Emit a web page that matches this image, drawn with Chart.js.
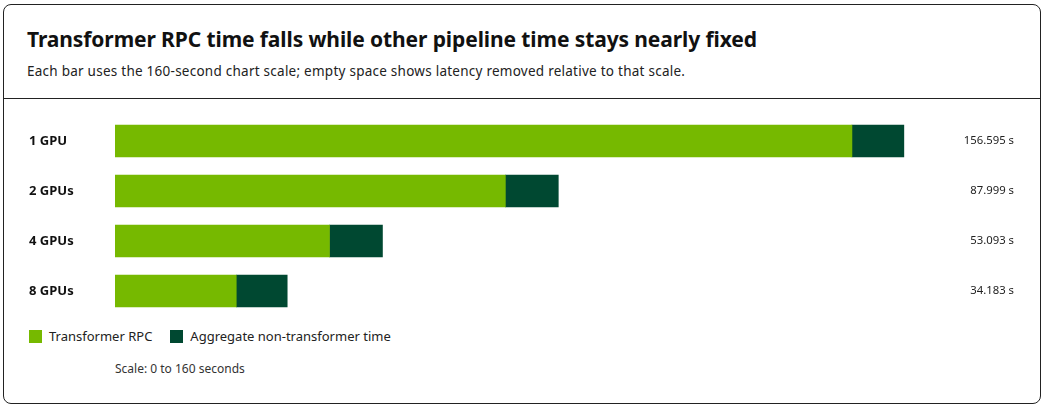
<!DOCTYPE html>
<html>
<head>
<meta charset="utf-8">
<title>Transformer RPC time</title>
<script src="https://cdn.jsdelivr.net/npm/chart.js@4.4.1/dist/chart.umd.min.js"></script>
<style>
  html, body { margin: 0; padding: 0; background: #fff; }
  body { width: 1048px; height: 408px; position: relative; font-family: "Noto Sans", sans-serif; color: #111; }
  .card { position: absolute; left: 3px; top: 4px; width: 1036px; height: 398px; border: 1px solid #222; border-radius: 8px; overflow: hidden; }
  .head { height: 93px; border-bottom: 1px solid #222; }
  h1 { margin: 0; position: absolute; left: 23px; top: 20px; font-size: 21px; font-weight: 700; letter-spacing: -0.1px; }
  .sub { position: absolute; left: 23px; top: 57px; font-size: 13.5px; letter-spacing: 0.25px; color: #222; }
  #myChart { position: absolute; left: 0; top: 111px; }
  .legend { position: absolute; left: 25px; top: 322px; font-size: 13px; color: #222; display: flex; align-items: center; }
  .legend span.sw { display: inline-block; width: 13px; height: 13px; margin-right: 7px; }
  .legend .item { display: flex; align-items: center; margin-right: 18px; }
  .note { position: absolute; left: 111px; top: 355px; font-size: 12px; color: #333; }
</style>
</head>
<body>
<div class="card">
  <div class="head"></div>
  <h1>Transformer RPC time falls while other pipeline time stays nearly fixed</h1>
  <div class="sub">Each bar uses the 160-second chart scale; empty space shows latency removed relative to that scale.</div>
  <canvas id="myChart" width="1036" height="200"></canvas>
  <div class="legend">
    <div class="item"><span class="sw" style="background:#76b900"></span>Transformer RPC</div>
    <div class="item"><span class="sw" style="background:#004831"></span>Aggregate non-transformer time</div>
  </div>
  <div class="note">Scale: 0 to 160 seconds</div>
</div>
<script>
const labels = ['1 GPU', '2 GPUs', '4 GPUs', '8 GPUs'];
const transformerRpc = [146.29, 77.49, 42.58, 24.07];
const nonTransformer = [10.305, 10.509, 10.513, 10.113];
const totals = ['156.595 s', '87.999 s', '53.093 s', '34.183 s'];
const scaleMax = 160;

const valueLabels = {
  id: 'valueLabels',
  afterDraw(chart) {
    const ctx = chart.ctx;
    const y = chart.scales.y;
    ctx.save();
    ctx.font = '11.3px "Noto Sans", sans-serif';
    ctx.fillStyle = '#222';
    ctx.textAlign = 'right';
    ctx.textBaseline = 'middle';
    labels.forEach((l, i) => {
      ctx.fillText(totals[i], chart.width - 26, y.getPixelForValue(i));
    });
    ctx.restore();
  }
};

const ctx = document.getElementById('myChart').getContext('2d');
const myChart = new Chart(ctx, {
  type: 'bar',
  data: {
    labels: labels,
    datasets: [{
      label: 'Transformer RPC',
      data: transformerRpc,
      backgroundColor: '#76b900',
      barThickness: 32
    }, {
      label: 'Aggregate non-transformer time',
      data: nonTransformer,
      backgroundColor: '#004831',
      barThickness: 32
    }]
  },
  options: {
    indexAxis: 'y',
    responsive: false,
    animation: false,
    layout: { padding: { left: 25, right: 119, top: 0, bottom: 0 } },
    plugins: { legend: { display: false }, tooltip: { enabled: false } },
    scales: {
      x: { stacked: true, min: 0, max: scaleMax, display: false },
      y: {
        stacked: true,
        grid: { display: false },
        border: { display: false },
        ticks: {
          crossAlign: 'far',
          padding: 0,
          color: '#111',
          font: { family: 'Noto Sans', size: 13, weight: 'bold' }
        },
        afterFit(scale) {
          scale.width = 86;
          scale.paddingTop = 0;
          scale.paddingBottom = 0;
        }
      }
    }
  },
  plugins: [valueLabels]
});
</script>
</body>
</html>
